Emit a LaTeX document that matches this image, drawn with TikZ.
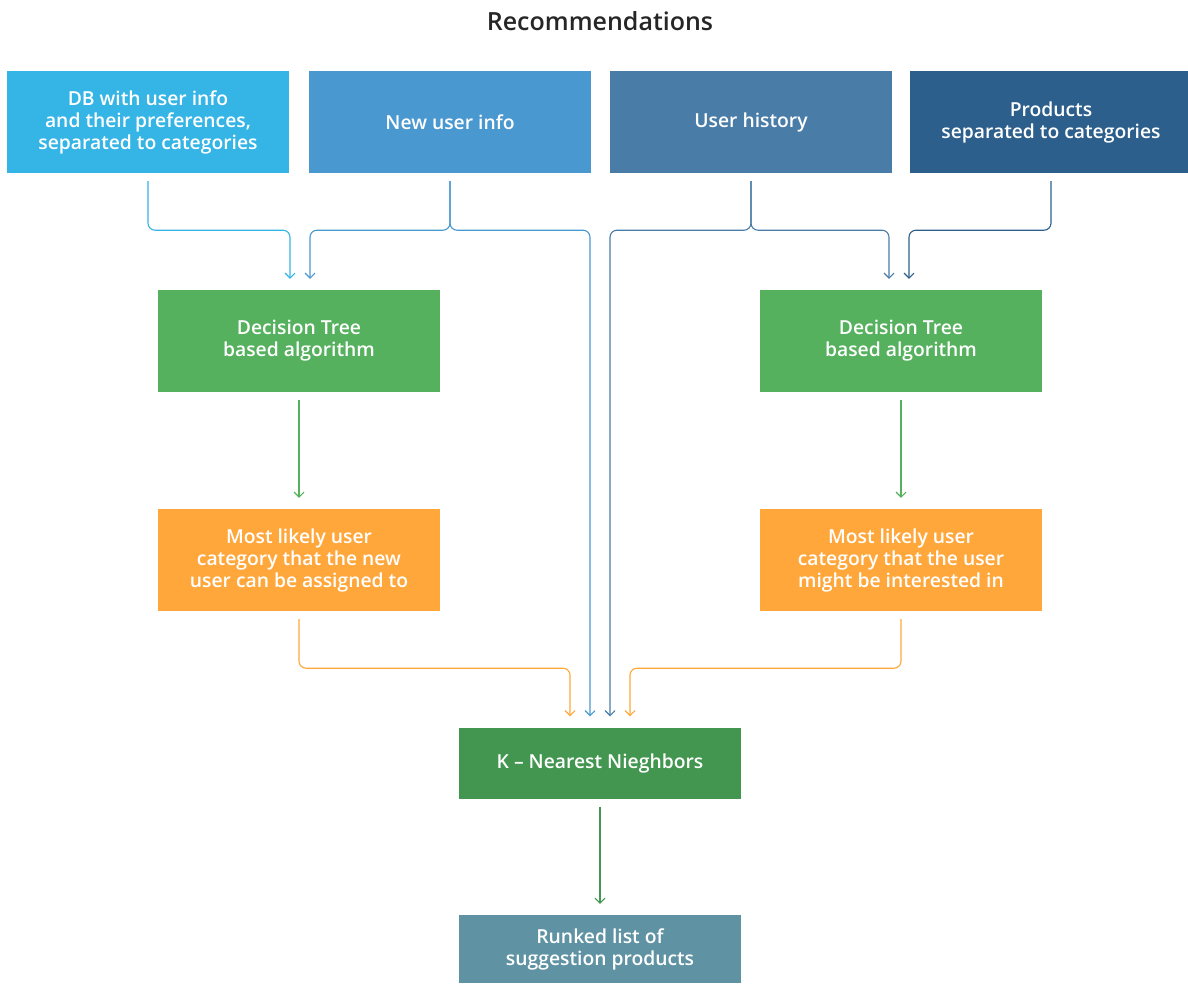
\documentclass[tikz,border=0pt]{standalone}
\usepackage{fontspec}
\setmainfont{Open Sans}
\IfFontExistsTF{Open Sans SemiBold}{\newfontfamily\semi{Open Sans SemiBold}}{%
  \IfFontExistsTF{Open Sans Semibold}{\newfontfamily\semi{Open Sans Semibold}}{%
    \newfontfamily\semi{Open Sans}[FakeBold=1.2]}}
\usetikzlibrary{arrows.meta}
\definecolor{cDB}{HTML}{35B4E6}
\definecolor{cNew}{HTML}{4A98D0}
\definecolor{cHist}{HTML}{4A7CA8}
\definecolor{cProd}{HTML}{2D5F8C}
\definecolor{cTree}{HTML}{55B15E}
\definecolor{cCat}{HTML}{FFA73B}
\definecolor{cKnn}{HTML}{43964F}
\definecolor{cList}{HTML}{5F93A3}
\begin{document}
\begin{tikzpicture}[x=1pt, y=-1pt, line join=round, >={Straight Barb[length=5pt,width=10pt]},
  box/.style={fill=#1, text=white, minimum width=282pt, minimum height=102pt, inner sep=0pt,
    align=center, font=\semi\fontsize{19.3}{22}\selectfont},
  link/.style={draw=#1, line width=1.1pt, rounded corners=7pt, ->, shorten <=8pt, shorten >=11pt}]
  \useasboundingbox (0,0) rectangle (1188,983);
  \node[text=black!85, font=\semi\fontsize{25}{28}\selectfont] (title) at (600,21) {Recommendations};
  % inputs
  \node[box=cDB]   (db)   at (148,122) {DB with user info\\and their preferences,\\separated to categories};
  \node[box=cNew]  (new)  at (450,122) {New user info};
  \node[box=cHist] (hist) at (751,122) {User history};
  \node[box=cProd] (prod) at (1051,122) {Products\\separated to categories};
  % trees and categories
  \node[box=cTree] (treeL) at (299,341) {Decision Tree\\based algorithm};
  \node[box=cTree] (treeR) at (901,341) {Decision Tree\\based algorithm};
  \node[box=cCat]  (catL)  at (299,560) {Most likely user\\category that the new\\user can be assigned to};
  \node[box=cCat]  (catR)  at (901,560) {Most likely user\\category that the user\\might be interested in};
  \node[box=cKnn, minimum height=71pt]  (knn)  at (600,763) {K – Nearest Nieghbors};
  \node[box=cList, minimum height=68pt] (list) at (600,949) {Runked list of\\suggestion products};
  % connectors
  \draw[link=cDB]   (db.south)   -- ++(0,57) -| ([xshift=-9pt]treeL.north);
  \draw[link=cNew]  (new.south)  -- ++(0,57) -| ([xshift=11pt]treeL.north);
  \draw[link=cNew]  (new.south)  -- ++(0,57) -| ([xshift=-10pt]knn.north);
  \draw[link=cHist] (hist.south) -- ++(0,57) -| ([xshift=10pt]knn.north);
  \draw[link=cHist] (hist.south) -- ++(0,57) -| ([xshift=-12pt]treeR.north);
  \draw[link=cProd] (prod.south) -- ++(0,57) -| ([xshift=8pt]treeR.north);
  \draw[link=cTree] (treeL) -- (catL);
  \draw[link=cTree] (treeR) -- (catR);
  \draw[link=cCat]  (catL.south) -- ++(0,57) -| ([xshift=-30pt]knn.north);
  \draw[link=cCat]  (catR.south) -- ++(0,57) -| ([xshift=30pt]knn.north);
  \draw[link=cKnn]  (knn) -- (list);
\end{tikzpicture}
\end{document}
